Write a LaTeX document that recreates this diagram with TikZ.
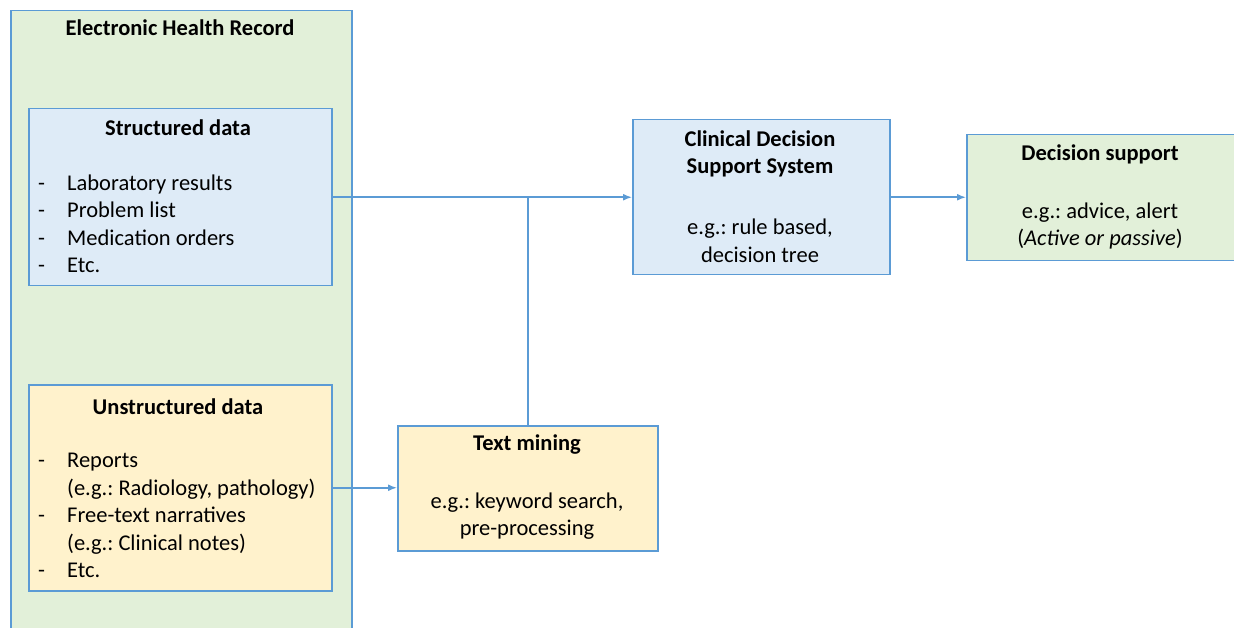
\documentclass[tikz,border=0pt]{standalone}
\usepackage{fontspec}
\setmainfont{Carlito}
\usetikzlibrary{arrows.meta,positioning}
\definecolor{linkblue}{RGB}{91,155,213}
\definecolor{fillblue}{RGB}{222,235,247}
\definecolor{fillgreen}{RGB}{226,240,217}
\definecolor{fillyellow}{RGB}{255,242,204}

\tikzset{
  box/.style={draw=linkblue, line width=1.5pt, anchor=north west, inner sep=0pt},
  boxtitle/.style={font=\bfseries\fontsize{22.5}{27.5}\selectfont, align=center},
  boxtext/.style={font=\fontsize{22.5}{27.5}\selectfont, align=center},
  itemlist/.style={font=\fontsize{22.5}{27.5}\selectfont, align=left, anchor=west, inner sep=0pt},
  link/.style={draw=linkblue, line width=1.6pt, -{Latex[length=9pt,width=7pt]}},
  plainlink/.style={draw=linkblue, line width=1.6pt}
}
\newcommand{\dashitem}{\makebox[29pt][l]{-}}
\newcommand{\noitem}{\hspace*{29pt}}
\frenchspacing

\begin{document}
\begin{tikzpicture}[x=1pt, y=-1pt]
    \useasboundingbox (0,0) rectangle (1234,628);
    \clip (0,0) rectangle (1234,628);
    % EHR column
    \node (ehr) [box, fill=fillgreen, minimum width=341pt, minimum height=640pt] at (10,10) {};
    \node (ehrtitle) [boxtitle] at (180,28) {Electronic Health Record};
    % structured data
    \node (sdata) [box, fill=fillblue, minimum width=303pt, minimum height=177pt] at (28,108) {};
    \node (sdatatitle) [boxtitle] at (178,128) {Structured data};
    \node (sdatalist) [itemlist] at (38,224) {\dashitem Laboratory results\\ \dashitem Problem list\\ \dashitem Medication orders\\ \dashitem Etc.};
    % unstructured data
    \node (udata) [box, fill=fillyellow, minimum width=303pt, minimum height=206pt] at (28,384) {};
    \node (udatatitle) [boxtitle] at (178,407) {Unstructured data};
    \node (udatalist) [itemlist] at (38,515.5) {\dashitem Reports\\ \noitem (e.g.: Radiology, pathology)\\ \dashitem Free-text narratives\\ \noitem (e.g.: Clinical notes)\\ \dashitem Etc.};
    % text mining
    \node (tmine) [box, fill=fillyellow, minimum width=260pt, minimum height=125pt] at (397,425) {};
    \node (tminetitle) [boxtitle] at (527,445) {Text mining};
    \node (tminetext) [boxtext] at (527,516) {e.g.: keyword search,\\ pre-processing};
    % CDSS
    \node (cdss) [box, fill=fillblue, minimum width=257pt, minimum height=155pt] at (632,119) {};
    \node (cdsstitle) [boxtitle] at (760,154) {Clinical Decision\\ Support System};
    \node (cdsstext) [boxtext] at (760,241) {e.g.: rule based,\\ decision tree};
    % decision support
    \node (dsupp) [box, fill=fillgreen, minimum width=280pt, minimum height=126pt] at (966,134) {};
    \node (dsupptitle) [boxtitle] at (1100,154) {Decision support};
    \node (dsupptext) [boxtext] at (1100,226) {e.g.: advice, alert\\ (\textit{Active or passive})};
    % connectors
    \draw[link] (sdata.east) -- (sdata.east -| cdss.west);
    \draw[plainlink] (tmine.north) -- (tmine.north |- sdata.east);
    \draw[link] (udata.east) -- (udata.east -| tmine.west);
    \draw[link] (cdss.east) -- (cdss.east -| dsupp.west);
\end{tikzpicture}
\end{document}
